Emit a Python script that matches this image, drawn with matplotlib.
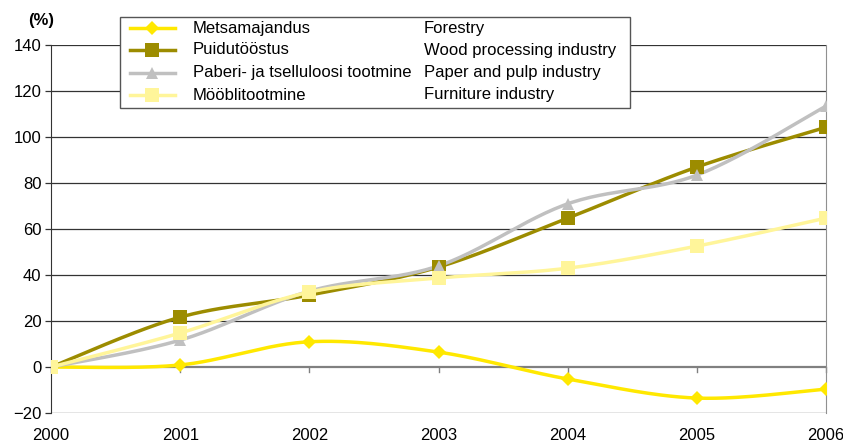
import matplotlib.pyplot as plt
import numpy as np
from matplotlib.lines import Line2D
from matplotlib.patches import Rectangle

plt.rcParams["font.family"] = ["Liberation Sans", "DejaVu Sans"]

years = [2000, 2001, 2002, 2003, 2004, 2005, 2006]

forestry = [0, 0.9, 11, 6.5, -5.2, -13.5, -9.6]
wood = [0, 21.7, 31.3, 43.5, 64.8, 87, 104.3]
paper = [0, 11.7, 33, 44, 71, 83.5, 113.5]
furniture = [0, 14.8, 32.6, 38.7, 43, 52.6, 64.8]

labels_et = ["Metsamajandus", "Puidutööstus",
             "Paberi- ja tselluloosi tootmine", "Mööblitootmine"]
labels_en = ["Forestry", "Wood processing industry",
             "Paper and pulp industry", "Furniture industry"]

colors = ["#FFE800", "#9C8C00", "#C0C0C0", "#FFF59A"]
markers = ["D", "s", "^", "s"]
msizes = [7.5, 9.5, 8.5, 9.5]

FS = 12


def smooth(x, y, n=30):
    """Catmull-Rom style Bezier smoothing through every point."""
    x = np.asarray(x, float)
    y = np.asarray(y, float)
    px = np.concatenate([[x[0]], x, [x[-1]]])
    py = np.concatenate([[y[0]], y, [y[-1]]])
    xs, ys = [], []
    t = np.linspace(0, 1, n)
    for i in range(1, len(px) - 2):
        p0 = np.array([px[i], py[i]])
        p3 = np.array([px[i + 1], py[i + 1]])
        p1 = p0 + (np.array([px[i + 1], py[i + 1]]) - np.array([px[i - 1], py[i - 1]])) / 6
        p2 = p3 - (np.array([px[i + 2], py[i + 2]]) - np.array([px[i], py[i]])) / 6
        b = ((1 - t) ** 3)[:, None] * p0 + (3 * (1 - t) ** 2 * t)[:, None] * p1 \
            + (3 * (1 - t) * t ** 2)[:, None] * p2 + (t ** 3)[:, None] * p3
        xs.append(b[:, 0])
        ys.append(b[:, 1])
    return np.concatenate(xs), np.concatenate(ys)


fig = plt.figure(figsize=(8.43, 4.47), dpi=100)
ax = fig.add_axes([0.0605, 0.076, 0.9195, 0.823])

for yv in range(-20, 141, 20):
    ax.axhline(yv, color="#333333" if yv != 0 else "#808080",
               linewidth=0.9 if yv != 0 else 1.6, zorder=1)

series = [forestry, wood, paper, furniture]
draw_order = [3, 2, 1, 0]
for i in draw_order:
    sx, sy = smooth(years, series[i])
    ax.plot(sx, sy, color=colors[i], linewidth=2.5, zorder=3 + i * 0.1)
    ax.plot(years, series[i], linestyle="none", marker=markers[i],
            markersize=msizes[i], color=colors[i], markeredgewidth=0,
            zorder=4 + i * 0.1)

# x-axis tick marks sit on the zero line
for yr in years:
    ax.plot([yr, yr], [0, -2], color="#808080", linewidth=1, zorder=2,
            clip_on=False)

ax.set_xlim(2000, 2006)
ax.set_ylim(-20, 140)
ax.set_yticks(range(-20, 141, 20))
ax.set_xticks(years)
ax.tick_params(axis="y", length=4, width=0.9, color="#333333",
               labelsize=FS, pad=3)
ax.tick_params(axis="x", length=0, labelsize=FS, pad=11)
for side in ["top", "bottom"]:
    ax.spines[side].set_visible(False)
ax.spines["left"].set_color("#333333")
ax.spines["right"].set_color("#909090")

fig.text(28 / 843, 1 - 20 / 447, "(%)", fontsize=FS, fontweight="bold",
         ha="left", va="center")

# legend box
W, H = 843, 447
fig.add_artist(Rectangle((120 / W, 1 - 108 / H), (630 - 120) / W,
                         (108 - 17) / H, transform=fig.transFigure,
                         facecolor="white", edgecolor="#555555",
                         linewidth=1, zorder=10))
rows = [28, 50, 73, 95]
for i, ry in enumerate(rows):
    yf = 1 - ry / H
    fig.add_artist(Line2D([130 / W, 175 / W], [yf, yf], color=colors[i],
                          linewidth=2.5, transform=fig.transFigure, zorder=11))
    fig.add_artist(Line2D([152 / W], [yf], marker=markers[i],
                          markersize=msizes[i], color=colors[i],
                          markeredgewidth=0, transform=fig.transFigure,
                          zorder=12))
    fig.text(193 / W, yf, labels_et[i], fontsize=FS, va="center",
             ha="left", zorder=12)
    fig.text(424 / W, yf, labels_en[i], fontsize=FS, va="center",
             ha="left", zorder=12)

fig.savefig("out.png", dpi=100)
